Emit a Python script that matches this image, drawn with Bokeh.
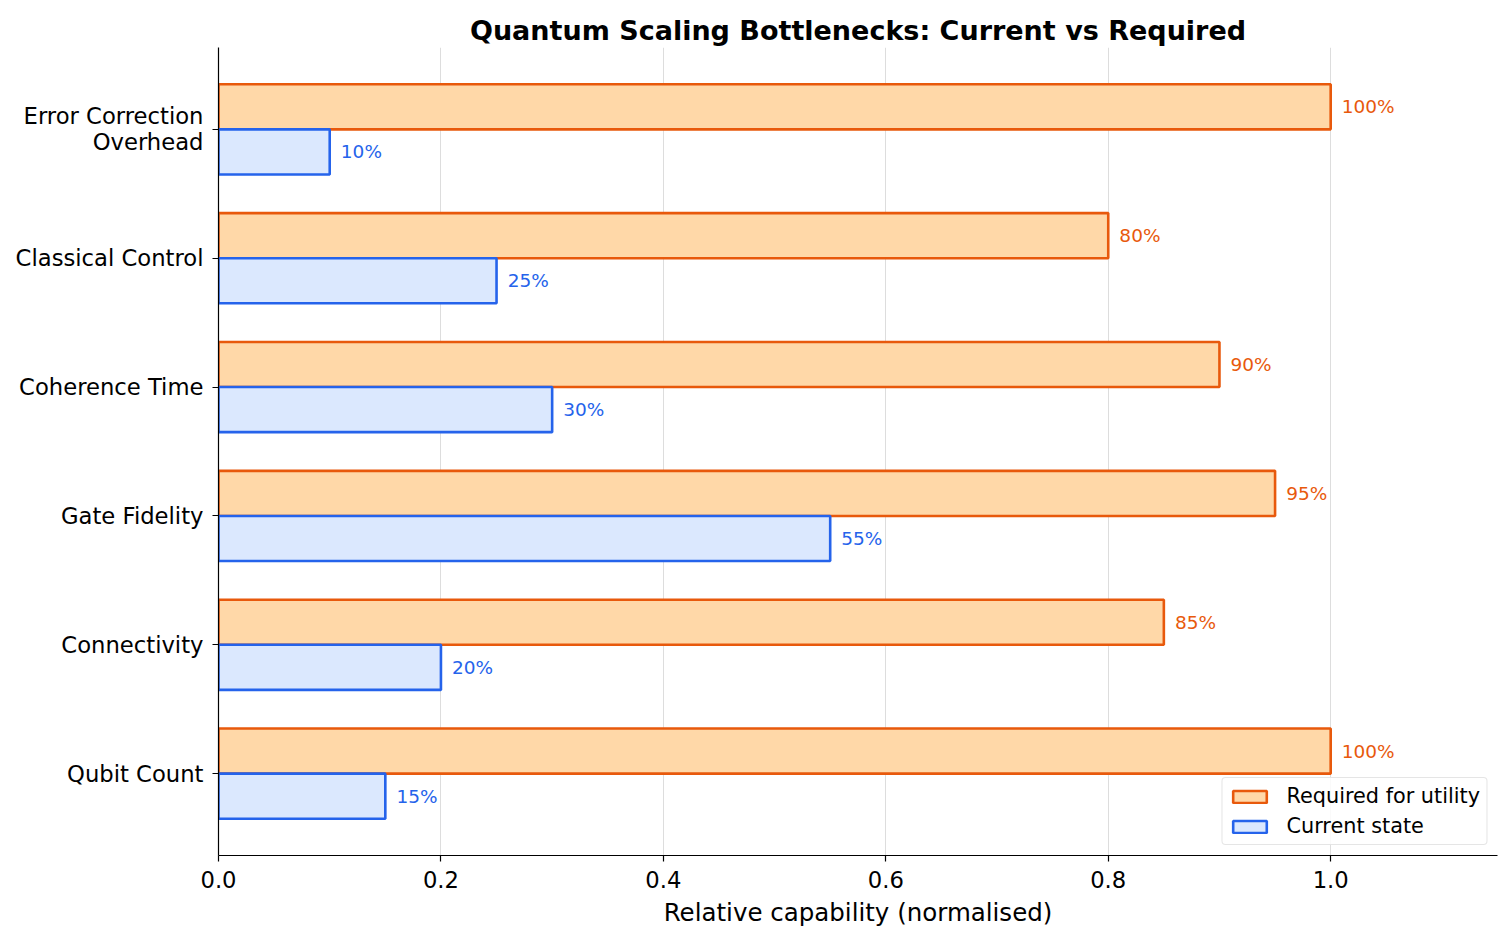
from bokeh.plotting import figure
from bokeh.models import ColumnDataSource, FixedTicker, Range1d, Legend, LegendItem
from bokeh.core.properties import value
from bokeh.embed import file_html
from bokeh.resources import INLINE

# Bottlenecks, bottom to top
categories = ["Qubit Count", "Connectivity", "Gate Fidelity", "Coherence Time",
              "Classical Control", "Error Correction\nOverhead"]
required = [1.00, 0.85, 0.95, 0.90, 0.80, 1.00]
current = [0.15, 0.20, 0.55, 0.30, 0.25, 0.10]

BAR_H = 0.35
FONT = "DejaVu Sans"
ORANGE_EDGE = "#e8590c"
ORANGE_FILL = "#ffd8a8"
BLUE_EDGE = "#2563eb"
BLUE_FILL = "#dbe8fe"

idx = list(range(len(categories)))
req_src = ColumnDataSource(dict(
    y=[i + BAR_H / 2 for i in idx], v=required,
    lx=[v + 0.01 for v in required], lab=[f"{round(v*100)}%" for v in required]))
cur_src = ColumnDataSource(dict(
    y=[i - BAR_H / 2 for i in idx], v=current,
    lx=[v + 0.01 for v in current], lab=[f"{round(v*100)}%" for v in current]))

p = figure(width=1512, height=940, output_backend="svg", toolbar_location=None,
           x_range=Range1d(0, 1.15), y_range=Range1d(-0.635, 5.635),
           min_border_left=218, min_border_right=15, min_border_top=47, min_border_bottom=85)
p.frame_width = 1279
p.frame_height = 808

p.title.text = "Quantum Scaling Bottlenecks: Current vs Required"
p.title.text_font = FONT
p.title.text_font_size = "27px"
p.title.text_font_style = "bold"
p.title.text_color = "black"
p.title.align = "center"
p.title.offset = 0
p.title.standoff = 4

r_req = p.hbar(y="y", right="v", left=0, height=BAR_H, source=req_src,
               fill_color=ORANGE_FILL, line_color=ORANGE_EDGE, line_width=2.6)
r_cur = p.hbar(y="y", right="v", left=0, height=BAR_H, source=cur_src,
               fill_color=BLUE_FILL, line_color=BLUE_EDGE, line_width=2.6)

p.text(x="lx", y="y", text="lab", source=req_src, text_color=ORANGE_EDGE,
       text_font=value(FONT), text_font_size="18.5px", text_baseline="middle")
p.text(x="lx", y="y", text="lab", source=cur_src, text_color=BLUE_EDGE,
       text_font=value(FONT), text_font_size="18.5px", text_baseline="middle")

# axes
p.outline_line_color = None
p.ygrid.grid_line_color = None
p.xgrid.grid_line_color = "#dddddd"
p.xgrid.grid_line_width = 1
p.xaxis.ticker = FixedTicker(ticks=[0, 0.2, 0.4, 0.6, 0.8, 1.0])
p.xaxis.major_label_overrides = {0: "0.0", 0.2: "0.2", 0.4: "0.4", 0.6: "0.6", 0.8: "0.8", 1.0: "1.0"}
p.yaxis.ticker = FixedTicker(ticks=idx)
p.yaxis.major_label_overrides = {i: c for i, c in zip(idx, categories)}
p.xaxis.axis_label = "Relative capability (normalised)"
for ax in (p.xaxis, p.yaxis):
    ax.axis_line_color = "black"
    ax.axis_line_width = 1.2
    ax.major_tick_line_color = "black"
    ax.major_tick_line_width = 1.2
    ax.major_tick_out = 6
    ax.major_tick_in = 0
    ax.minor_tick_line_color = None
    ax.major_label_text_font = FONT
    ax.major_label_text_font_size = "22.7px"
    ax.major_label_text_color = "black"
    ax.axis_label_text_font = FONT
    ax.axis_label_text_font_size = "24.5px"
    ax.axis_label_text_font_style = "normal"
    ax.axis_label_text_color = "black"
p.yaxis.major_label_text_line_height = 1.0
p.xaxis.major_label_standoff = 9
p.xaxis.axis_label_standoff = 7
p.yaxis.major_label_standoff = 9

legend = Legend(items=[LegendItem(label="Required for utility", renderers=[r_req]),
                       LegendItem(label="Current state", renderers=[r_cur])],
                location="bottom_right")
legend.label_text_font = FONT
legend.label_text_font_size = "20.8px"
legend.label_text_color = "black"
legend.border_line_color = "#cccccc"
legend.border_line_width = 1.2
legend.border_radius = 4
legend.background_fill_alpha = 0.85
legend.glyph_width = 42
legend.glyph_height = 15
legend.spacing = 6
legend.padding = 6
legend.margin = 10
legend.label_standoff = 16
p.add_layout(legend)

open("out.html", "w").write(file_html(p, INLINE))
